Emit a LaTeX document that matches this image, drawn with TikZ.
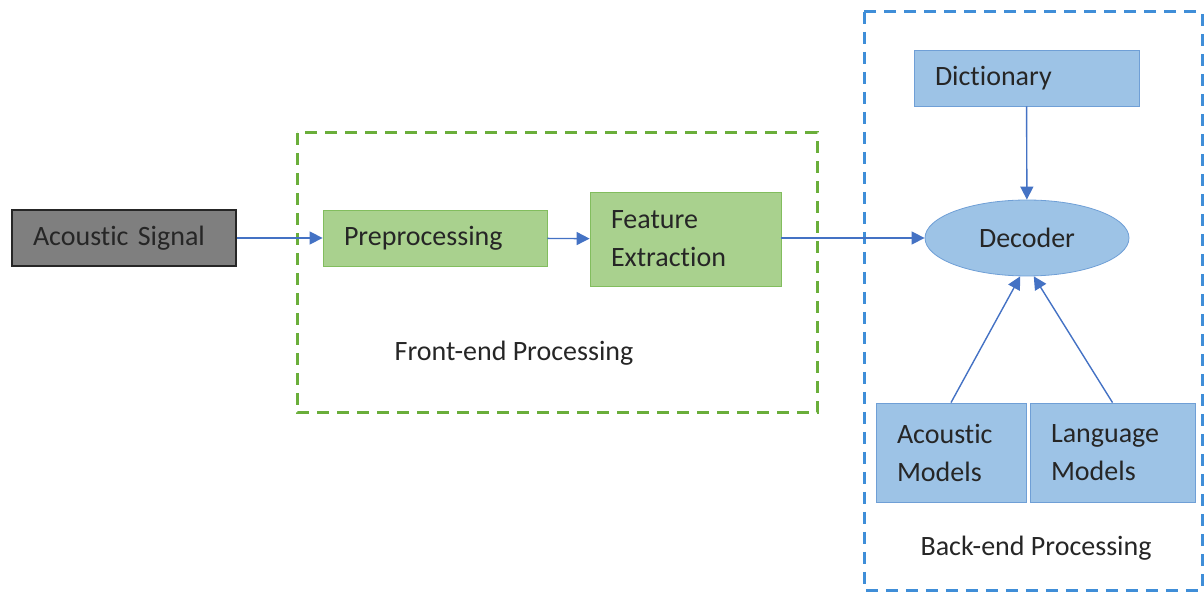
\documentclass[tikz,border=0pt]{standalone}
\usepackage{fontspec}
\setmainfont{Carlito}[Ligatures=NoCommon]
\usepackage{tikz}
\usetikzlibrary{arrows.meta,positioning,shapes.geometric}
\definecolor{sigfill}{HTML}{7F7F7F}
\definecolor{sigdraw}{HTML}{262626}
\definecolor{frontfill}{HTML}{A9D18E}
\definecolor{frontdraw}{HTML}{82BD5E}
\definecolor{frontdash}{HTML}{6AAE3A}
\definecolor{backfill}{HTML}{9DC3E6}
\definecolor{backdraw}{HTML}{6F9FD6}
\definecolor{backdash}{HTML}{3F8ED8}
\definecolor{flowblue}{HTML}{4472C4}

\tikzset{
  procbox/.style={rectangle, inner xsep=10.5pt, inner ysep=2pt, align=left, font=\fontsize{14}{19}\selectfont, text=black!85},
  flow/.style={-{Triangle[length=6.5pt,width=6.5pt]}, draw=flowblue, line width=0.7pt}
}

\begin{document}
\begin{tikzpicture}[x=0.5pt, y=-0.5pt]
  \useasboundingbox (0,0) rectangle (1204,592);

  % Group frames
  \draw[frontdash, line width=1.5pt, dash pattern=on 6pt off 4pt] (297,133) rectangle (817,413);
  \draw[backdash, line width=1.5pt, dash pattern=on 6pt off 4pt] (864,12) rectangle (1202,590);

  % Front-end nodes
  \node[procbox, draw=sigdraw, line width=0.8pt, fill=sigfill, text width=91pt, minimum height=28pt] (signal) at (124,238) {Acoustic Signal};
  \node[procbox, draw=frontdraw, fill=frontfill, text width=91pt, minimum height=28pt] (prep) at (435,238) {Preprocessing};
  \node[procbox, draw=frontdraw, fill=frontfill, text width=74.5pt, minimum height=47pt] (feat) at (685.5,239) {Feature\\Extraction};
  \node[font=\fontsize{14}{19}\selectfont, text=black!85] (frontlbl) at (514,353) {Front-end Processing};

  % Back-end nodes
  \node[procbox, draw=backdraw, fill=backfill, text width=91.5pt, minimum height=28pt] (dict) at (1026.5,78) {Dictionary};
  \node[ellipse, draw=backdraw, fill=backfill, minimum width=102pt, minimum height=38pt, font=\fontsize{14}{19}\selectfont, text=black!85] (dec) at (1027,238) {Decoder};
  \node[procbox, draw=backdraw, fill=backfill, text width=54pt, minimum height=49.5pt] (acmod) at (951,452.5) {Acoustic\\Models};
  \node[procbox, draw=backdraw, fill=backfill, text width=61.5pt, minimum height=49.5pt] (lmod) at (1112.5,452.5) {Language\\Models};
  \node[font=\fontsize{14}{19}\selectfont, text=black!85] (backlbl) at (1036,548) {Back-end Processing};

  % Connectors
  \draw[flow] (signal) -- (prep);
  \draw[flow] (prep) -- (feat);
  \draw[flow] (feat.east |- dec) -- (dec);
  \draw[flow] (dict) -- (dec);
  \draw[flow] (acmod.north) -- (dec.-100);
  \draw[flow] (lmod.north) -- (dec.-80);
\end{tikzpicture}
\end{document}
